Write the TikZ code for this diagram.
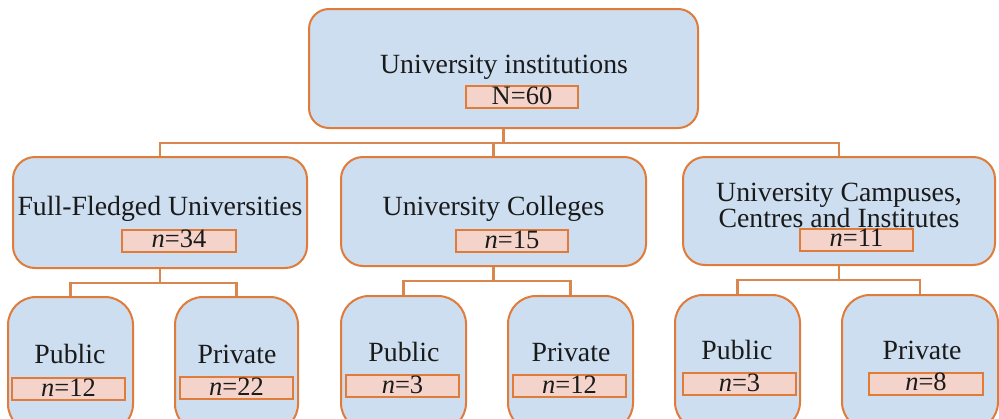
\documentclass[tikz,border=0pt]{standalone}
\usepackage{fontspec}
\setmainfont{Liberation Serif}
\definecolor{boxblue}{HTML}{CCDEEF}
\definecolor{boxorange}{HTML}{E07B39}
\definecolor{linkorange}{HTML}{DA864F}
\definecolor{tagfill}{HTML}{F4D4CA}
\definecolor{inktext}{HTML}{1A1A1A}
\begin{document}
\begin{tikzpicture}[x=1pt,y=-1pt,
  box/.style={draw=boxorange, line width=2pt, fill=boxblue, inner sep=0pt},
  lvltop/.style={box, rounded corners=20pt},
  lvltwo/.style={box, rounded corners=22pt, minimum height=110pt},
  lvlthree/.style={box, rounded corners=28pt, minimum width=125pt, minimum height=135pt},
  tag/.style={draw=boxorange, line width=2pt, fill=tagfill, inner sep=0pt, minimum width=113pt, minimum height=22pt, text height=17pt, text depth=3pt, font=\fontsize{26.5}{30}\selectfont, text=inktext},
  lbl/.style={anchor=base, inner sep=0pt, font=\fontsize{27.8}{32}\selectfont, text=inktext},
  link/.style={draw=linkorange, line width=2.1pt}]
\useasboundingbox (0,0) rectangle (999,418);
\clip (0,0) rectangle (999,418);
\fill[white] (0,0) rectangle (999,418);

% boxes
\node[lvltop, minimum width=389pt, minimum height=119pt] (top) at (503.5,68.5) {};
\node[lvltwo, minimum width=294pt, minimum height=111pt] (ffu) at (160,212.5) {};
\node[lvltwo, minimum width=305pt, minimum height=109pt] (uc) at (493.5,211.5) {};
\node[lvltwo, minimum width=312pt, minimum height=108pt] (ucci) at (839,211) {};

\node[lvlthree] (pub1) at (70.5,364.5) {};
\node[lvlthree, minimum width=123pt] (pri1) at (236.5,364.5) {};
\node[lvlthree] (pub2) at (403.5,363.5) {};
\node[lvlthree] (pri2) at (570.5,363.5) {};
\node[lvlthree] (pub3) at (737.5,362.5) {};
\node[lvlthree, minimum width=156pt] (pri3) at (920,362.5) {};

% connectors
\coordinate (busA) at (503.5,143);
\draw[link] (top.south) -- (busA);
\draw[link] (busA) -| (ffu.north);
\draw[link] (busA) -| (uc.north);
\draw[link] (busA) -| (ucci.north);

\coordinate (busB) at (160,283);
\draw[link] (ffu.south) -- (busB);
\draw[link] (busB) -| (pub1.north);
\draw[link] (busB) -| (pri1.north);

\coordinate (busC) at (493.5,281);
\draw[link] (uc.south) -- (busC);
\draw[link] (busC) -| (pub2.north);
\draw[link] (busC) -| (pri2.north);

\coordinate (busD) at (839,280);
\draw[link] (ucci.south) -- (busD);
\draw[link] (busD) -| (pub3.north);
\draw[link] (busD) -| (pri3.north);

% labels
\node[lbl] (tTop) at (504,73) {University institutions};
\node[tag, minimum width=112pt] (nTop) at (522,97) {N=60};

\node[lbl] (tFfu) at (160,215) {Full-Fledged Universities};
\node[tag, minimum width=114pt] (nFfu) at (179,240.5) {\textit{n}=34};

\node[lbl] (tUc) at (493.5,215) {University Colleges};
\node[tag, minimum width=112pt] (nUc) at (512,241) {\textit{n}=15};

\node[lbl] (tUcciA) at (839,201.5) {University Campuses,};
\node[lbl] (tUcciB) at (839,227) {Centres and Institutes};
\node[tag] (nUcci) at (856.5,239.5) {\textit{n}=11};

\node[lbl] (tPub1) at (70,363) {Public};
\node[tag] (nPub1) at (68.5,389) {\textit{n}=12};
\node[lbl] (tPri1) at (237,363) {Private};
\node[tag] (nPri1) at (236.5,388) {\textit{n}=22};

\node[lbl] (tPub2) at (404,361) {Public};
\node[tag] (nPub2) at (402.5,386) {\textit{n}=3};
\node[lbl] (tPri2) at (571,361) {Private};
\node[tag] (nPri2) at (569.5,386) {\textit{n}=12};

\node[lbl] (tPub3) at (737,359) {Public};
\node[tag] (nPub3) at (739.5,384) {\textit{n}=3};
\node[lbl] (tPri3) at (922,359) {Private};
\node[tag, minimum width=114pt] (nPri3) at (926,383.5) {\textit{n}=8};
\end{tikzpicture}
\end{document}
